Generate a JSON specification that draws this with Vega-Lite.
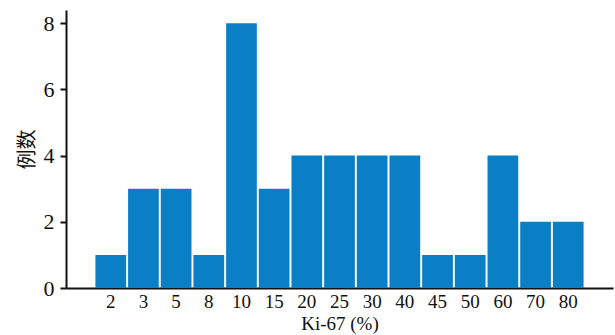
{
  "$schema": "https://vega.github.io/schema/vega-lite/v6.json",
  "width": 547,
  "height": 278,
  "autosize": {"type": "none"},
  "padding": {"left": 66, "top": 10, "right": 2, "bottom": 47},
  "background": "white",
  "config": {"view": {"stroke": null}},
  "data": {"values": [
    {"ki67": "2", "n": 1}, {"ki67": "3", "n": 3}, {"ki67": "5", "n": 3}, {"ki67": "8", "n": 1},
    {"ki67": "10", "n": 8}, {"ki67": "15", "n": 3}, {"ki67": "20", "n": 4}, {"ki67": "25", "n": 4},
    {"ki67": "30", "n": 4}, {"ki67": "40", "n": 4}, {"ki67": "45", "n": 1}, {"ki67": "50", "n": 1},
    {"ki67": "60", "n": 4}, {"ki67": "70", "n": 2}, {"ki67": "80", "n": 2}
  ]},
  "mark": {"type": "bar", "color": "#0A7FC6"},
  "encoding": {
    "x": {
      "field": "ki67", "type": "ordinal", "sort": null,
      "scale": {"paddingInner": 0.06, "paddingOuter": 0.9},
      "axis": {
        "title": "Ki-67 (%)", "labelAngle": 0, "ticks": false, "grid": false,
        "domainColor": "#111", "domainWidth": 2, "labelFont": "Liberation Serif",
        "labelFontSize": 19, "labelColor": "#111", "labelPadding": 4,
        "titleFont": "Liberation Serif", "titleFontSize": 19, "titleFontWeight": "normal",
        "titleColor": "#111", "titlePadding": 3
      }
    },
    "y": {
      "field": "n", "type": "quantitative",
      "scale": {"domain": [0, 8.4], "nice": false},
      "axis": {
        "title": "例数", "values": [0, 2, 4, 6, 8], "grid": false,
        "domainColor": "#111", "domainWidth": 2, "tickColor": "#111", "tickWidth": 2, "tickSize": 6,
        "labelFont": "Liberation Serif", "labelFontSize": 22, "labelColor": "#111", "labelPadding": 6,
        "titleFont": "Noto Sans CJK SC", "titleFontSize": 20, "titleFontWeight": "normal",
        "titleColor": "#111", "titlePadding": 6
      }
    }
  }
}
